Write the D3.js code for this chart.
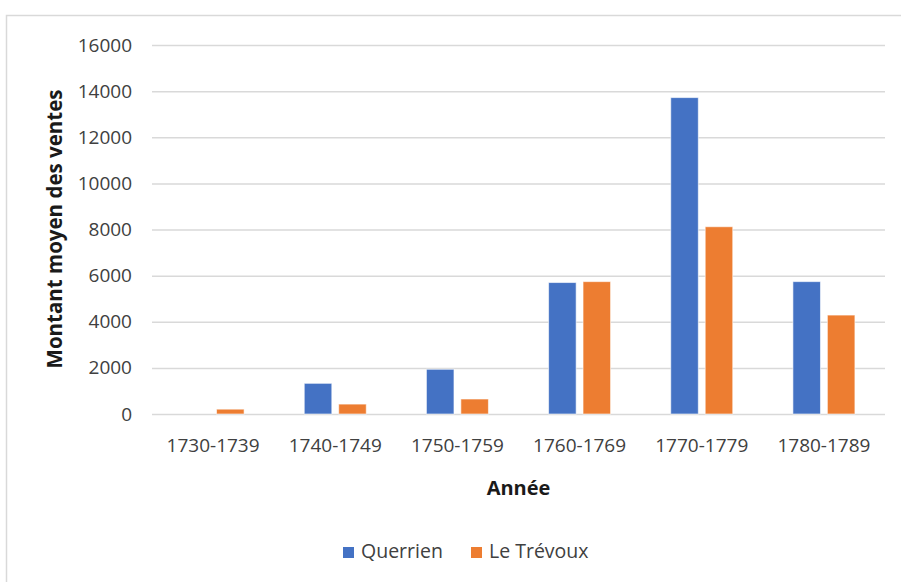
<!DOCTYPE html>
<html>
<head>
<meta charset="utf-8">
<script src="https://cdn.jsdelivr.net/npm/d3@7"></script>
<style>
  body { margin: 0; background: #fff; }
  svg { display: block; font-family: "Open Sans", "Liberation Sans", sans-serif; }
</style>
</head>
<body>
<div id="chart"></div>
<script>
// data
let periods = ["1730-1739", "1740-1749", "1750-1759", "1760-1769", "1770-1779", "1780-1789"];
let seriesNames = ["Querrien", "Le Trévoux"];
let querrien = [0, 1330, 1940, 5700, 13720, 5740];
let trevoux = [210, 430, 650, 5740, 8120, 4290];
let yTicks = [0, 2000, 4000, 6000, 8000, 10000, 12000, 14000, 16000];
let colors = ["#4472C4", "#ED7D31"];

let width = 901;
let height = 582;
let plotLeft = 152;
let plotRight = 885;
let plotTop = 45;
let plotBottom = 414;

let rows = periods.map(function (p, i) {
  return { period: p, values: [querrien[i], trevoux[i]] };
});

let svg = d3
  .select("#chart")
  .append("svg")
  .attr("width", width)
  .attr("height", height);

// chart frame (runs off the right and bottom edges)
svg
  .append("rect")
  .attr("x", 6.5)
  .attr("y", 15.5)
  .attr("width", 1200)
  .attr("height", 1200)
  .attr("fill", "#fff")
  .attr("stroke", "#d9d9d9")
  .attr("stroke-width", 1.5);

let xScale = d3
  .scaleBand()
  .domain(periods)
  .range([plotLeft, plotRight]);

// position of each series inside a period
let xSub = d3
  .scaleBand()
  .domain([0, 1])
  .range([-31, 31])
  .paddingInner(0.2);

let yScale = d3
  .scaleLinear()
  .domain([0, 16000])
  .range([plotBottom, plotTop]);

// y axis with gridlines
let yAxis = d3
  .axisLeft(yScale)
  .tickValues(yTicks)
  .tickSizeInner(-(plotRight - plotLeft))
  .tickSizeOuter(0)
  .tickPadding(20)
  .tickFormat(d3.format("d"));

let yG = svg
  .append("g")
  .attr("class", "yAxis")
  .attr("transform", "translate(" + plotLeft + ",0)")
  .call(yAxis);
yG.select(".domain").remove();
yG.selectAll(".tick line").attr("stroke", "#d9d9d9").attr("stroke-width", 1.5);
yG.selectAll(".tick text")
  .attr("fill", "#404040")
  .attr("font-size", 19)
  .attr("font-family", "Open Sans, sans-serif");

// bars
let groups = svg
  .selectAll("g.period")
  .data(rows)
  .enter()
  .append("g")
  .attr("class", "period")
  .attr("transform", function (d) {
    return "translate(" + (xScale(d.period) + xScale.bandwidth() / 2) + ",0)";
  });

groups
  .selectAll("rect")
  .data(function (d) {
    return d.values
      .map(function (v, k) { return { v: v, k: k }; })
      .filter(function (d) { return d.v > 0; });
  })
  .enter()
  .append("rect")
  .attr("x", function (d) { return xSub(d.k); })
  .attr("y", function (d) { return yScale(d.v); })
  .attr("width", xSub.bandwidth())
  .attr("height", function (d) { return plotBottom - yScale(d.v); })
  .attr("fill", function (d) { return colors[d.k]; })
  .attr("stroke", "#fff")
  .attr("stroke-opacity", 0.6)
  .attr("stroke-width", 1);

// x axis labels
let xAxis = d3.axisBottom(xScale).tickSize(0).tickPadding(25);
let xG = svg
  .append("g")
  .attr("class", "xAxis")
  .attr("transform", "translate(0," + plotBottom + ")")
  .call(xAxis);
xG.select(".domain").remove();
xG.selectAll(".tick text")
  .attr("fill", "#404040")
  .attr("font-size", 19)
  .attr("font-family", "Open Sans, sans-serif");

// axis titles
svg
  .append("text")
  .attr("x", (plotLeft + plotRight) / 2)
  .attr("y", 495)
  .attr("text-anchor", "middle")
  .attr("font-size", 20)
  .attr("font-weight", "bold")
  .attr("fill", "#1a1a1a")
  .text("Année");

svg
  .append("text")
  .attr("transform", "translate(62,229)rotate(-90)")
  .attr("text-anchor", "middle")
  .attr("font-size", 20.5)
  .attr("font-weight", "bold")
  .attr("fill", "#1a1a1a")
  .text("Montant moyen des ventes");

// legend
let legendX = [343, 471];
seriesNames.forEach(function (name, i) {
  svg
    .append("rect")
    .attr("x", legendX[i])
    .attr("y", 547)
    .attr("width", 11)
    .attr("height", 11)
    .attr("fill", colors[i]);
  svg
    .append("text")
    .attr("x", legendX[i] + 18)
    .attr("y", 558)
    .attr("font-size", 19.5)
    .attr("fill", "#404040")
    .text(name);
});
</script>
</body>
</html>
